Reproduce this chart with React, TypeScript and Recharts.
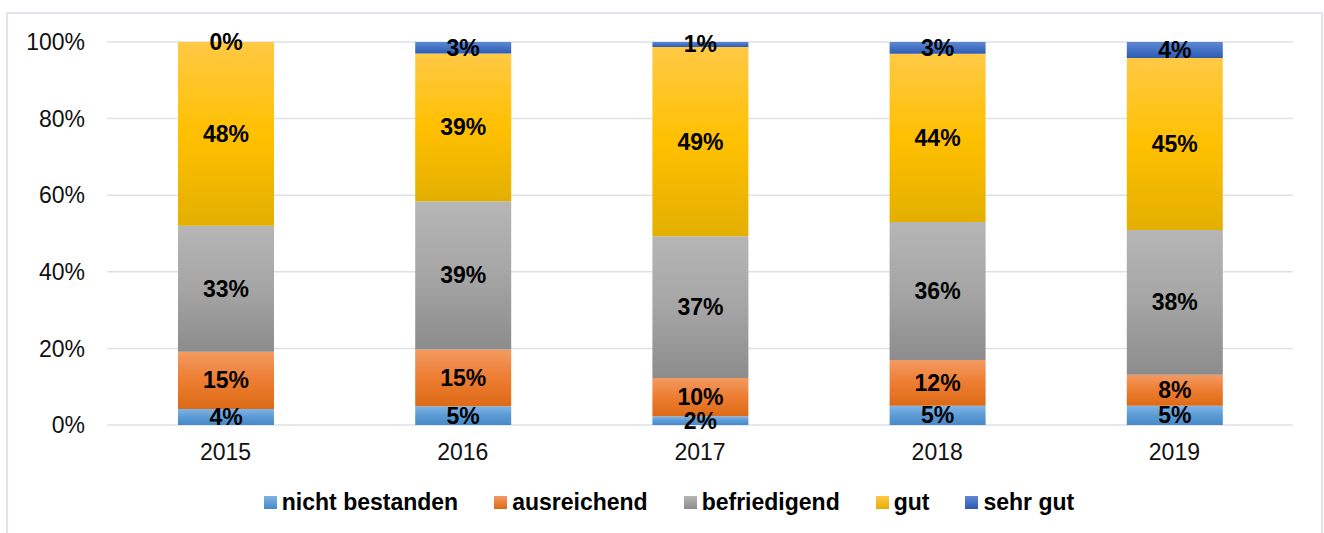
import { BarChart, Bar, XAxis, YAxis, CartesianGrid, Legend, LabelList, Rectangle } from "recharts"

const years = ["2015", "2016", "2017", "2018", "2019"]
const nichtBestanden = [4.2, 4.9, 2.3, 5.0, 5.0]
const ausreichend = [14.9, 14.8, 10.0, 12.0, 8.1]
const befriedigend = [32.9, 38.7, 37.0, 36.0, 37.8]
const gut = [48.0, 38.6, 49.4, 43.9, 44.9]
const sehrGut = [0, 3.0, 1.3, 3.1, 4.2]
const yTicks = [0, 20, 40, 60, 80, 100]

const FONT = "'Liberation Sans', Arial, sans-serif"

const series = [
    { key: "nb", name: "nicht bestanden", top: "#80B4E6", mid: "#5B9BD5", bottom: "#4788C8" },
    { key: "au", name: "ausreichend", top: "#F39A62", mid: "#ED7D31", bottom: "#DC6A16" },
    { key: "be", name: "befriedigend", top: "#B6B6B6", mid: "#A5A5A5", bottom: "#8C8C8C" },
    { key: "gu", name: "gut", top: "#FFC945", mid: "#FFC000", bottom: "#E3AF00" },
    { key: "sg", name: "sehr gut", top: "#5E88D3", mid: "#4472C4", bottom: "#2D5BB3" },
]

const data = years.map((year, i) => ({
    year,
    nb: nichtBestanden[i],
    au: ausreichend[i],
    be: befriedigend[i],
    gu: gut[i],
    sg: sehrGut[i],
}))

function SegmentLabel(props: any) {
    const { x, y, width, height, value } = props
    if (value === undefined || value === null) return null
    const v = Array.isArray(value) ? value[1] - value[0] : Number(value)
    return (
        <text
            x={Number(x) + Number(width) / 2}
            y={Number(y) + Number(height || 0) / 2}
            textAnchor="middle"
            dominantBaseline="central"
            fill="#000"
            fontSize={23}
            fontWeight="bold"
            fontFamily={FONT}
        >
            {`${Math.round(v)}%`}
        </text>
    )
}

// zero-valued segments keep their slot (so the "0%" label shows) but paint nothing
function SegmentShape(props: any) {
    const { payload, dataKey } = props
    if (payload && payload[dataKey] === 0) return <g />
    return <Rectangle {...props} />
}

function LegendContent() {
    return (
        <div style={{ display: "flex", justifyContent: "center", paddingLeft: 18, fontFamily: FONT }}>
            {series.map((s, i) => (
                <div
                    key={s.key}
                    style={{ display: "flex", alignItems: "center", marginRight: i < series.length - 1 ? 36 : 0 }}
                >
                    <span
                        style={{
                            width: 13,
                            height: 13,
                            display: "inline-block",
                            background: `linear-gradient(${s.top}, ${s.bottom})`,
                            marginRight: 5,
                        }}
                    />
                    <span style={{ fontSize: 23, fontWeight: "bold", color: "#000" }}>{s.name}</span>
                </div>
            ))}
        </div>
    )
}

export default function App() {
    return (
        <div
            style={{
                position: "absolute",
                left: 6,
                top: 12,
                width: 1317,
                height: 540,
                border: "2px solid #E1E5EB",
                boxSizing: "border-box",
                background: "#fff",
            }}
        >
            <div style={{ position: "absolute", left: 0, top: 0 }}>
                <BarChart
                    width={1300}
                    height={520}
                    data={data}
                    margin={{ top: 28, right: 15, left: 19, bottom: 15 }}
                >
                    <defs>
                        {series.map((s) => (
                            <linearGradient key={s.key} id={`grad-${s.key}`} x1="0" y1="0" x2="0" y2="1">
                                <stop offset="0%" stopColor={s.top} />
                                <stop offset="50%" stopColor={s.mid} />
                                <stop offset="100%" stopColor={s.bottom} />
                            </linearGradient>
                        ))}
                    </defs>
                    <CartesianGrid vertical={false} stroke="#DDE1E6" strokeWidth={1.5} />
                    <XAxis
                        dataKey="year"
                        axisLine={false}
                        tickLine={false}
                        height={64}
                        tickMargin={13}
                        tick={{ fontSize: 23, fill: "#111", fontFamily: FONT }}
                    />
                    <YAxis
                        width={80}
                        domain={[0, 100]}
                        ticks={yTicks}
                        axisLine={false}
                        tickLine={false}
                        tickMargin={16}
                        tickFormatter={(v: number) => `${v}%`}
                        tick={{ fontSize: 23, fill: "#111", fontFamily: FONT }}
                    />
                    <Legend verticalAlign="bottom" height={30} content={<LegendContent />} />
                    {series.map((s) => (
                        <Bar
                            key={s.key}
                            dataKey={s.key}
                            name={s.name}
                            stackId="a"
                            barSize={96}
                            fill={`url(#grad-${s.key})`}
                            minPointSize={(v: number) => (v === 0 ? 0.01 : 0)}
                            shape={SegmentShape}
                            isAnimationActive={false}
                        >
                            <LabelList dataKey={s.key} content={SegmentLabel} />
                        </Bar>
                    ))}
                </BarChart>
            </div>
        </div>
    )
}
